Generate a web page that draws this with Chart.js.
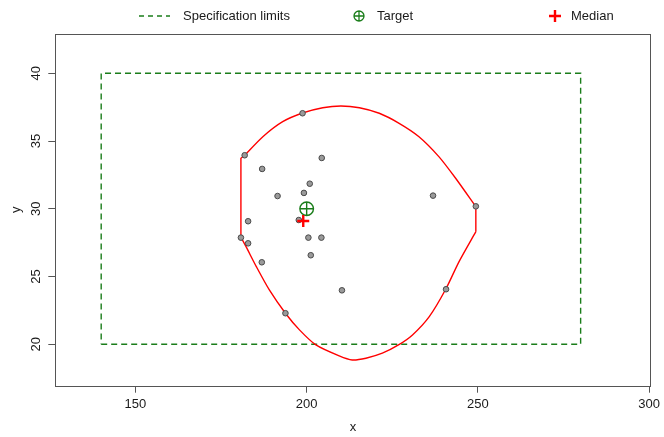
<!DOCTYPE html>
<html>
<head>
<meta charset="utf-8">
<script src="https://cdn.jsdelivr.net/npm/chart.js@4"></script>
<style>
  body { margin: 0; background: #fff; }
  canvas { display: block; }
</style>
</head>
<body>
<canvas id="myChart" width="664" height="437"></canvas>
<script>
// observations
var obsX = [198.8, 181.9, 187.0, 204.4, 200.9, 199.2, 191.5, 197.7, 182.9, 180.8,
            182.9, 200.5, 204.3, 201.2, 186.9, 210.3, 193.8, 240.7, 236.9, 249.4];
var obsY = [37.05, 33.95, 32.94, 33.75, 31.85, 31.17, 30.94, 29.17, 29.08, 27.87,
            27.45, 27.87, 27.87, 26.57, 26.05, 23.98, 22.29, 24.06, 30.97, 30.18];

var targetX = [200], targetY = [30];
var medianX = [199.0], medianY = [29.1];

// specification limits (rectangle)
var specX = [140, 280, 280, 140, 140];
var specY = [20, 20, 40, 40, 20];

// red region outline
var arcTopX = [181.9, 187.2, 193.0, 198.8, 204.7, 210.0, 215.4, 221.2, 227.0, 232.8, 238.6, 243.5, 249.4];
var arcTopY = [33.95, 35.32, 36.43, 37.07, 37.46, 37.59, 37.46, 37.05, 36.31, 35.32, 33.85, 32.25, 30.15];
var arcBotX = [249.4, 244.5, 240.6, 235.8, 230.9, 226.8, 222.1, 217.3, 213.3, 209.5, 202.7, 197.9, 193.8, 189.1, 185.3, 182.3, 180.8];
var arcBotY = [28.31, 26.10, 24.06, 22.04, 20.69, 19.95, 19.34, 18.97, 18.84, 19.14, 19.95, 21.06, 22.29, 24.01, 25.73, 27.20, 27.90];
var sideLeftX = [180.8, 180.8, 181.9], sideLeftY = [27.90, 33.73, 33.95];
var sideRightX = [249.4, 249.4], sideRightY = [30.15, 28.31];

var xTicks = [150, 200, 250, 300];
var yTicks = [20, 25, 30, 35, 40];
var xLabel = 'x', yLabel = 'y';
var legendLabels = ['Specification limits', 'Target', 'Median'];

var RED = '#ff0000';
var GREEN = '#1a7d1a';
var FONT = '"Liberation Sans", Arial, sans-serif';

function pts(xs, ys) {
  return xs.map(function(x, i) { return {x: x, y: ys[i]}; });
}

function lineSet(xs, ys, color, width, tension, dash) {
  return {
    data: pts(xs, ys),
    showLine: true,
    borderColor: color,
    borderWidth: width,
    borderDash: dash || [],
    tension: tension,
    pointRadius: 0,
    fill: false
  };
}

// draw the target symbol (circle with a plus)
function drawTarget(ctx, x, y, r, lw) {
  ctx.save();
  ctx.strokeStyle = GREEN;
  ctx.lineWidth = lw;
  ctx.beginPath();
  ctx.arc(x, y, r, 0, Math.PI * 2);
  ctx.moveTo(x - r, y); ctx.lineTo(x + r, y);
  ctx.moveTo(x, y - r); ctx.lineTo(x, y + r);
  ctx.stroke();
  ctx.restore();
}

function drawPlus(ctx, x, y, r, lw) {
  ctx.save();
  ctx.strokeStyle = RED;
  ctx.lineWidth = lw;
  ctx.beginPath();
  ctx.moveTo(x - r, y); ctx.lineTo(x + r, y);
  ctx.moveTo(x, y - r); ctx.lineTo(x, y + r);
  ctx.stroke();
  ctx.restore();
}

var decor = {
  id: 'decor',
  afterDatasetsDraw: function(chart) {
    var ctx = chart.ctx;
    var xs = chart.scales.x, ys = chart.scales.y;

    // target and median markers
    targetX.forEach(function(v, i) {
      drawTarget(ctx, xs.getPixelForValue(v), ys.getPixelForValue(targetY[i]), 6.8, 1.4);
    });
    medianX.forEach(function(v, i) {
      drawPlus(ctx, xs.getPixelForValue(v), ys.getPixelForValue(medianY[i]), 6, 2.4);
    });
  },
  afterDraw: function(chart) {
    var ctx = chart.ctx;
    var ys = chart.scales.y;
    var a = chart.chartArea;
    ctx.save();
    // box
    ctx.strokeStyle = '#555';
    ctx.lineWidth = 1;
    ctx.strokeRect(Math.round(a.left) + 0.5, Math.round(a.top) + 0.5,
                   Math.round(a.right - a.left), Math.round(a.bottom - a.top));

    ctx.fillStyle = '#1a1a1a';
    ctx.font = '13px ' + FONT;
    ctx.textAlign = 'center';
    ctx.textBaseline = 'middle';

    // y tick labels, rotated like R
    yTicks.forEach(function(v) {
      ctx.save();
      ctx.translate(36, ys.getPixelForValue(v));
      ctx.rotate(-Math.PI / 2);
      ctx.fillText(String(v), 0, 0);
      ctx.restore();
    });

    // axis titles
    ctx.fillText(xLabel, (a.left + a.right) / 2, 427);
    ctx.save();
    ctx.translate(16, (a.top + a.bottom) / 2);
    ctx.rotate(-Math.PI / 2);
    ctx.fillText(yLabel, 0, 0);
    ctx.restore();

    // legend
    var ly = 16;
    ctx.strokeStyle = GREEN;
    ctx.lineWidth = 1.4;
    ctx.setLineDash([5, 4]);
    ctx.beginPath();
    ctx.moveTo(139, ly); ctx.lineTo(170, ly);
    ctx.stroke();
    ctx.setLineDash([]);
    ctx.textAlign = 'left';
    ctx.fillText(legendLabels[0], 183, ly);
    drawTarget(ctx, 359, ly, 5, 1.3);
    ctx.fillText(legendLabels[1], 377, ly);
    drawPlus(ctx, 555, ly, 6, 2.4);
    ctx.fillText(legendLabels[2], 571, ly);
    ctx.restore();
  }
};

var ctx = document.getElementById('myChart');
var myChart = new Chart(ctx, {
  type: 'scatter',
  data: {
    datasets: [
      {
        data: pts(obsX, obsY),
        pointRadius: 2.8,
        pointHoverRadius: 2.8,
        pointBackgroundColor: '#9a9a9a',
        pointBorderColor: '#4a4a4a',
        pointBorderWidth: 1
      },
      lineSet(arcTopX, arcTopY, RED, 1.4, 0.25),
      lineSet(arcBotX, arcBotY, RED, 1.4, 0.25),
      lineSet(sideLeftX, sideLeftY, RED, 1.4, 0),
      lineSet(sideRightX, sideRightY, RED, 1.4, 0),
      lineSet(specX, specY, GREEN, 1.4, 0, [6, 4])
    ]
  },
  options: {
    responsive: false,
    animation: false,
    devicePixelRatio: 1,
    layout: { padding: { top: 34, right: 12.3, left: 0, bottom: 0 } },
    plugins: {
      legend: { display: false },
      tooltip: { enabled: false }
    },
    scales: {
      x: {
        type: 'linear',
        min: 126.6,
        max: 300.4,
        afterBuildTicks: function(scale) {
          scale.ticks = xTicks.map(function(v) { return {value: v}; });
        },
        afterFit: function(scale) { scale.height = 51.3; },
        border: { display: false },
        grid: { drawOnChartArea: false, drawTicks: true, tickLength: 7, color: '#555' },
        ticks: {
          color: '#1a1a1a',
          padding: 4,
          maxRotation: 0,
          font: { family: FONT, size: 13 }
        }
      },
      y: {
        type: 'linear',
        min: 16.94,
        max: 42.9,
        afterBuildTicks: function(scale) {
          scale.ticks = yTicks.map(function(v) { return {value: v}; });
        },
        afterFit: function(scale) { scale.width = 55.3; },
        border: { display: false },
        grid: { drawOnChartArea: false, drawTicks: true, tickLength: 7, color: '#555' },
        ticks: { display: false }
      }
    }
  },
  plugins: [decor]
});
</script>
</body>
</html>
